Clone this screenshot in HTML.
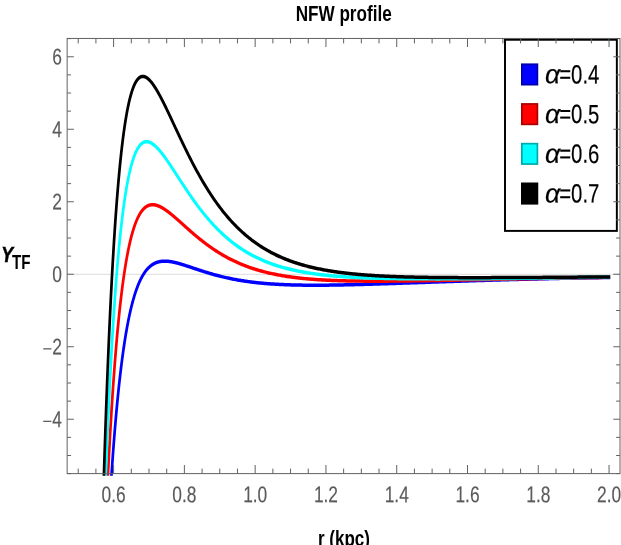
<!DOCTYPE html>
<html><head><meta charset="utf-8"><title>NFW profile</title>
<style>
html,body{margin:0;padding:0;background:#fff;}
body{width:621px;height:545px;overflow:hidden;}
svg{display:block;font-family:"Liberation Sans",sans-serif;}
text{filter:grayscale(1);}
</style></head>
<body>
<svg width="621" height="545" viewBox="0 0 621 545">
<rect width="621" height="545" fill="#fff"/>
<defs><clipPath id="cp"><rect x="67.15" y="35.45" width="552.85" height="440.35"/></clipPath></defs>
<line x1="67.15" x2="620.0" y1="274.30" y2="274.30" stroke="#cfcfcf" stroke-width="0.75"/>
<g clip-path="url(#cp)"><g transform="scale(0.778,1)" fill="none" stroke-width="3.5" stroke-linejoin="round" stroke-linecap="butt">
<path d="M139.04,529.71L139.31,525.85L139.59,522.03L139.86,518.27L140.13,514.56L140.41,510.89L140.68,507.27L140.95,503.70L141.23,500.17L141.50,496.69L141.77,493.26L142.05,489.87L142.32,486.53L142.60,483.23L142.87,479.97L143.14,476.75L143.42,473.58L143.69,470.44L143.96,467.35L144.24,464.30L144.51,461.29L144.78,458.32L145.06,455.39L145.33,452.50L145.61,449.64L145.88,446.82L146.15,444.04L146.43,441.30L146.70,438.59L146.97,435.92L147.25,433.28L147.52,430.68L147.79,428.11L148.07,425.58L148.34,423.08L148.61,420.61L148.89,418.18L149.16,415.77L149.44,413.40L149.71,411.07L149.98,408.76L150.26,406.48L150.53,404.24L150.80,402.02L151.08,399.84L151.35,397.68L151.62,395.55L151.90,393.45L152.17,391.38L152.45,389.34L152.72,387.32L152.99,385.33L153.27,383.37L153.54,381.44L153.81,379.53L154.09,377.65L154.36,375.79L154.63,373.96L154.91,372.15L155.18,370.37L155.46,368.61L155.73,366.88L156.00,365.17L156.28,363.48L156.55,361.81L156.82,360.17L157.10,358.56L157.37,356.96L157.64,355.39L157.92,353.83L158.19,352.30L158.46,350.79L158.74,349.30L159.01,347.84L159.29,346.39L159.56,344.96L159.83,343.55L160.11,342.16L160.38,340.80L160.65,339.45L160.93,338.12L161.20,336.81L161.47,335.51L161.75,334.24L162.02,332.98L162.30,331.74L162.57,330.52L162.84,329.32L163.12,328.13L163.39,326.96L163.66,325.80L163.94,324.67L164.21,323.55L164.48,322.44L164.76,321.35L165.03,320.28L165.31,319.22L165.58,318.18L165.85,317.16L166.13,316.14L166.40,315.15L166.67,314.16L166.95,313.19L167.22,312.24L167.49,311.30L167.77,310.37L168.04,309.46L168.32,308.56L168.59,307.68L168.86,306.80L169.14,305.94L169.41,305.10L169.68,304.26L169.96,303.44L170.23,302.63L170.50,301.84L170.78,301.05L171.05,300.28L171.32,299.52L171.60,298.77L171.87,298.03L172.15,297.30L172.42,296.58L172.69,295.88L172.97,295.19L173.24,294.50L173.51,293.83L173.79,293.17L174.06,292.52L174.33,291.87L174.61,291.24L174.88,290.62L175.16,290.01L175.43,289.41L175.70,288.82L175.98,288.23L176.25,287.66L176.52,287.09L176.80,286.54L177.07,285.99L177.34,285.45L177.62,284.93L177.89,284.41L178.17,283.89L178.44,283.39L178.71,282.90L178.99,282.41L179.26,281.93L179.53,281.46L179.81,281.00L180.08,280.54L180.35,280.10L180.63,279.66L180.90,279.22L181.17,278.80L181.45,278.38L181.72,277.97L182.00,277.57L182.27,277.17L182.54,276.78L182.82,276.40L183.09,276.03L183.36,275.66L183.64,275.30L183.91,274.94L184.18,274.59L184.46,274.25L184.73,273.91L185.01,273.58L185.28,273.26L185.55,272.94L185.83,272.63L186.10,272.32L186.37,272.02L186.65,271.72L186.92,271.43L187.19,271.15L187.47,270.87L187.74,270.60L188.02,270.33L188.29,270.07L188.56,269.81L188.84,269.56L189.11,269.31L189.38,269.07L189.66,268.83L189.93,268.60L190.20,268.37L190.48,268.15L190.75,267.93L191.03,267.72L191.30,267.51L191.57,267.30L191.85,267.10L192.12,266.91L192.39,266.71L192.67,266.53L192.94,266.34L193.21,266.16L193.49,265.99L193.76,265.82L194.03,265.65L194.31,265.49L194.58,265.33L194.86,265.17L195.13,265.02L195.40,264.87L195.68,264.73L195.95,264.59L196.22,264.45L196.50,264.32L196.77,264.19L197.04,264.06L197.32,263.94L197.59,263.82L197.87,263.70L198.14,263.58L198.41,263.47L198.69,263.37L198.96,263.26L199.23,263.16L199.51,263.06L199.78,262.97L200.05,262.87L200.33,262.78L200.60,262.70L200.88,262.61L201.15,262.53L201.42,262.45L201.70,262.38L201.97,262.30L202.24,262.23L202.52,262.17L202.79,262.10L203.06,262.04L203.34,261.98L203.61,261.92L203.88,261.86L204.16,261.81L204.43,261.76L204.71,261.71L204.98,261.66L205.25,261.62L205.53,261.58L205.80,261.54L206.07,261.50L206.35,261.46L206.62,261.43L206.89,261.40L207.17,261.37L207.44,261.34L207.72,261.31L207.99,261.29L208.26,261.27L208.54,261.25L208.81,261.23L209.08,261.21L209.36,261.20L209.63,261.18L209.90,261.17L210.18,261.16L210.45,261.15L210.73,261.15L211.00,261.14L211.27,261.14L211.55,261.14L211.82,261.13L212.09,261.14L212.37,261.14L212.64,261.14L212.91,261.15L213.19,261.16L213.46,261.16L213.74,261.17L214.01,261.18L214.28,261.20L214.56,261.21L214.83,261.23L215.10,261.24L215.38,261.26L215.65,261.28L215.92,261.30L216.20,261.32L216.47,261.34L216.74,261.36L217.02,261.39L217.29,261.41L217.57,261.44L217.84,261.47L218.11,261.50L218.39,261.53L218.66,261.56L218.93,261.59L219.21,261.62L219.48,261.66L219.75,261.69L220.03,261.73L220.30,261.76L220.58,261.80L220.85,261.84L221.12,261.88L221.40,261.92L221.67,261.96L221.94,262.00L222.22,262.04L222.49,262.09L222.76,262.13L223.04,262.18L223.31,262.22L223.59,262.27L223.86,262.31L224.13,262.36L224.41,262.41L224.68,262.46L224.95,262.51L225.23,262.56L225.50,262.61L225.77,262.66L226.05,262.71L226.32,262.77L226.59,262.82L226.87,262.87L227.14,262.93L227.42,262.98L227.69,263.04L227.96,263.09L228.24,263.15L228.51,263.21L228.78,263.26L229.06,263.32L229.33,263.38L229.60,263.44L229.88,263.50L230.15,263.56L230.43,263.62L230.70,263.68L230.97,263.74L231.25,263.80L231.52,263.86L231.79,263.93L232.07,263.99L232.34,264.05L232.61,264.11L232.89,264.18L233.16,264.24L233.44,264.31L233.71,264.37L233.98,264.44L234.26,264.50L234.53,264.57L234.80,264.63L235.08,264.70L235.35,264.76L235.62,264.83L235.90,264.90L236.17,264.96L236.45,265.03L236.72,265.10L236.99,265.17L238.36,265.51L239.74,265.86L241.11,266.21L242.48,266.56L243.85,266.92L245.22,267.27L246.59,267.63L247.97,267.99L249.34,268.35L250.71,268.71L252.08,269.06L253.45,269.42L254.82,269.77L256.19,270.12L257.57,270.47L258.94,270.82L260.31,271.16L261.68,271.50L263.05,271.84L264.42,272.17L265.80,272.50L267.17,272.82L268.54,273.14L269.91,273.46L271.28,273.77L272.65,274.08L274.03,274.38L275.40,274.67L276.77,274.97L278.14,275.25L279.51,275.54L280.88,275.82L282.26,276.09L283.63,276.36L285.00,276.62L286.37,276.88L287.74,277.13L289.11,277.38L290.48,277.62L291.86,277.86L293.23,278.09L294.60,278.32L295.97,278.54L297.34,278.76L298.71,278.97L300.09,279.18L301.46,279.38L302.83,279.58L304.20,279.78L305.57,279.97L306.94,280.15L308.32,280.33L309.69,280.51L311.06,280.68L312.43,280.85L313.80,281.01L315.17,281.17L316.55,281.33L317.92,281.48L319.29,281.63L320.66,281.77L322.03,281.91L323.40,282.04L324.78,282.17L326.15,282.30L327.52,282.43L328.89,282.55L330.26,282.66L331.63,282.78L333.00,282.89L334.38,282.99L335.75,283.10L337.12,283.20L338.49,283.30L339.86,283.39L341.23,283.48L342.61,283.57L343.98,283.65L345.35,283.73L346.72,283.81L348.09,283.89L349.46,283.96L350.84,284.03L352.21,284.10L353.58,284.17L354.95,284.23L356.32,284.29L357.69,284.35L359.07,284.41L360.44,284.46L361.81,284.51L363.18,284.56L364.55,284.61L365.92,284.65L367.29,284.70L368.67,284.74L370.04,284.78L371.41,284.81L372.78,284.85L374.15,284.88L375.52,284.91L376.90,284.94L378.27,284.97L379.64,284.99L381.01,285.02L382.38,285.04L383.75,285.06L385.13,285.08L386.50,285.10L387.87,285.12L389.24,285.13L390.61,285.14L391.98,285.16L393.36,285.17L394.73,285.18L396.10,285.18L397.47,285.19L398.84,285.20L400.21,285.20L401.59,285.20L402.96,285.21L404.33,285.21L405.70,285.21L407.07,285.21L408.44,285.20L409.81,285.20L411.19,285.19L412.56,285.19L413.93,285.18L415.30,285.18L416.67,285.17L418.04,285.16L419.42,285.15L420.79,285.14L422.16,285.13L423.53,285.11L424.90,285.10L426.27,285.09L427.65,285.07L429.02,285.05L430.39,285.04L431.76,285.02L433.13,285.00L434.50,284.99L435.88,284.97L437.25,284.95L438.62,284.93L439.99,284.91L441.36,284.88L442.73,284.86L444.10,284.84L445.48,284.82L446.85,284.79L448.22,284.77L449.59,284.74L450.96,284.72L452.33,284.69L453.71,284.67L455.08,284.64L456.45,284.61L457.82,284.59L459.19,284.56L460.56,284.53L461.94,284.50L463.31,284.47L464.68,284.45L466.05,284.42L467.42,284.39L468.79,284.36L470.17,284.33L471.54,284.29L472.91,284.26L474.28,284.23L475.65,284.20L477.02,284.17L478.40,284.14L479.77,284.10L481.14,284.07L482.51,284.04L483.88,284.00L485.25,283.97L486.62,283.94L488.00,283.90L489.37,283.87L490.74,283.84L492.11,283.80L493.48,283.77L494.85,283.73L496.23,283.70L497.60,283.66L498.97,283.63L500.34,283.59L501.71,283.56L503.08,283.52L504.46,283.48L505.83,283.45L507.20,283.41L508.57,283.38L509.94,283.34L511.31,283.30L512.69,283.27L514.06,283.23L515.43,283.19L516.80,283.16L518.17,283.12L519.54,283.08L520.92,283.05L522.29,283.01L523.66,282.97L525.03,282.94L526.40,282.90L527.77,282.86L529.14,282.83L530.52,282.79L531.89,282.75L533.26,282.71L534.63,282.68L536.00,282.64L537.37,282.60L538.75,282.57L540.12,282.53L541.49,282.49L542.86,282.45L544.23,282.42L545.60,282.38L546.98,282.34L548.35,282.30L549.72,282.27L551.09,282.23L552.46,282.19L553.83,282.16L555.21,282.12L556.58,282.08L557.95,282.05L559.32,282.01L560.69,281.97L562.06,281.93L563.43,281.90L564.81,281.86L566.18,281.82L567.55,281.79L568.92,281.75L570.29,281.71L571.66,281.68L573.04,281.64L574.41,281.60L575.78,281.57L577.15,281.53L578.52,281.50L579.89,281.46L581.27,281.42L582.64,281.39L584.01,281.35L585.38,281.32L586.75,281.28L588.12,281.24L589.50,281.21L590.87,281.17L592.24,281.14L593.61,281.10L594.98,281.07L596.35,281.03L597.73,281.00L599.10,280.96L600.47,280.93L601.84,280.89L603.21,280.86L604.58,280.82L605.95,280.79L607.33,280.75L608.70,280.72L610.07,280.69L611.44,280.65L612.81,280.62L614.18,280.58L615.56,280.55L616.93,280.52L618.30,280.48L619.67,280.45L621.04,280.42L622.41,280.38L623.79,280.35L625.16,280.32L626.53,280.28L627.90,280.25L629.27,280.22L630.64,280.19L632.02,280.15L633.39,280.12L634.76,280.09L636.13,280.06L637.50,280.03L638.87,279.99L640.24,279.96L641.62,279.93L642.99,279.90L644.36,279.87L645.73,279.84L647.10,279.81L648.47,279.78L649.85,279.74L651.22,279.71L652.59,279.68L653.96,279.65L655.33,279.62L656.70,279.59L658.08,279.56L659.45,279.53L660.82,279.50L662.19,279.48L663.56,279.45L664.93,279.42L666.31,279.39L667.68,279.36L669.05,279.33L670.42,279.30L671.79,279.27L673.16,279.24L674.54,279.22L675.91,279.19L677.28,279.16L678.65,279.13L680.02,279.11L681.39,279.08L682.76,279.05L684.14,279.02L685.51,279.00L686.88,278.97L688.25,278.94L689.62,278.92L690.99,278.89L692.37,278.86L693.74,278.84L695.11,278.81L696.48,278.79L697.85,278.76L699.22,278.73L700.60,278.71L701.97,278.68L703.34,278.66L704.71,278.63L706.08,278.61L707.45,278.58L708.83,278.56L710.20,278.54L711.57,278.51L712.94,278.49L714.31,278.46L715.68,278.44L717.05,278.42L718.43,278.39L719.80,278.37L721.17,278.35L722.54,278.32L723.91,278.30L725.28,278.28L726.66,278.26L728.03,278.23L729.40,278.21L730.77,278.19L732.14,278.17L733.51,278.15L734.89,278.12L736.26,278.10L737.63,278.08L739.00,278.06L740.37,278.04L741.74,278.02L743.12,278.00L744.49,277.98L745.86,277.96L747.23,277.94L748.60,277.92L749.97,277.90L751.35,277.88L752.72,277.86L754.09,277.84L755.46,277.82L756.83,277.80L758.20,277.78L759.57,277.76L760.95,277.74L762.32,277.73L763.69,277.71L765.06,277.69L766.43,277.67L767.80,277.65L769.18,277.64L770.55,277.62L771.92,277.60L773.29,277.58L774.66,277.57L776.03,277.55L777.41,277.53L778.78,277.52L780.15,277.50L781.52,277.48L782.89,277.47L784.26,277.45" stroke="#0000ff"/>
<path d="M135.48,530.71L135.75,525.71L136.03,520.78L136.30,515.92L136.58,511.12L136.85,506.38L137.12,501.71L137.40,497.10L137.67,492.55L137.94,488.06L138.22,483.63L138.49,479.25L138.76,474.94L139.04,470.69L139.31,466.49L139.59,462.35L139.86,458.26L140.13,454.23L140.41,450.25L140.68,446.33L140.95,442.45L141.23,438.63L141.50,434.87L141.77,431.15L142.05,427.48L142.32,423.87L142.60,420.30L142.87,416.78L143.14,413.31L143.42,409.89L143.69,406.51L143.96,403.18L144.24,399.89L144.51,396.65L144.78,393.46L145.06,390.30L145.33,387.20L145.61,384.13L145.88,381.11L146.15,378.13L146.43,375.19L146.70,372.29L146.97,369.43L147.25,366.61L147.52,363.83L147.79,361.09L148.07,358.39L148.34,355.72L148.61,353.10L148.89,350.51L149.16,347.95L149.44,345.44L149.71,342.95L149.98,340.51L150.26,338.10L150.53,335.72L150.80,333.38L151.08,331.07L151.35,328.79L151.62,326.55L151.90,324.34L152.17,322.16L152.45,320.01L152.72,317.89L152.99,315.81L153.27,313.75L153.54,311.73L153.81,309.73L154.09,307.76L154.36,305.83L154.63,303.92L154.91,302.04L155.18,300.18L155.46,298.36L155.73,296.56L156.00,294.79L156.28,293.04L156.55,291.32L156.82,289.63L157.10,287.96L157.37,286.32L157.64,284.71L157.92,283.11L158.19,281.54L158.46,280.00L158.74,278.48L159.01,276.98L159.29,275.51L159.56,274.06L159.83,272.63L160.11,271.22L160.38,269.84L160.65,268.48L160.93,267.14L161.20,265.82L161.47,264.52L161.75,263.24L162.02,261.98L162.30,260.75L162.57,259.53L162.84,258.33L163.12,257.15L163.39,255.99L163.66,254.85L163.94,253.73L164.21,252.63L164.48,251.54L164.76,250.48L165.03,249.43L165.31,248.39L165.58,247.38L165.85,246.38L166.13,245.40L166.40,244.44L166.67,243.49L166.95,242.56L167.22,241.65L167.49,240.75L167.77,239.87L168.04,239.00L168.32,238.15L168.59,237.31L168.86,236.49L169.14,235.68L169.41,234.89L169.68,234.11L169.96,233.34L170.23,232.59L170.50,231.85L170.78,231.13L171.05,230.42L171.32,229.72L171.60,229.04L171.87,228.37L172.15,227.71L172.42,227.07L172.69,226.44L172.97,225.81L173.24,225.21L173.51,224.61L173.79,224.03L174.06,223.45L174.33,222.89L174.61,222.34L174.88,221.80L175.16,221.28L175.43,220.76L175.70,220.25L175.98,219.76L176.25,219.27L176.52,218.80L176.80,218.33L177.07,217.88L177.34,217.44L177.62,217.00L177.89,216.58L178.17,216.16L178.44,215.76L178.71,215.36L178.99,214.97L179.26,214.60L179.53,214.23L179.81,213.87L180.08,213.52L180.35,213.17L180.63,212.84L180.90,212.51L181.17,212.20L181.45,211.89L181.72,211.59L182.00,211.29L182.27,211.01L182.54,210.73L182.82,210.46L183.09,210.20L183.36,209.94L183.64,209.70L183.91,209.45L184.18,209.22L184.46,209.00L184.73,208.78L185.01,208.56L185.28,208.36L185.55,208.16L185.83,207.97L186.10,207.78L186.37,207.60L186.65,207.43L186.92,207.26L187.19,207.10L187.47,206.94L187.74,206.80L188.02,206.65L188.29,206.52L188.56,206.38L188.84,206.26L189.11,206.14L189.38,206.02L189.66,205.91L189.93,205.81L190.20,205.71L190.48,205.62L190.75,205.53L191.03,205.45L191.30,205.37L191.57,205.29L191.85,205.22L192.12,205.16L192.39,205.10L192.67,205.05L192.94,205.00L193.21,204.95L193.49,204.91L193.76,204.87L194.03,204.84L194.31,204.81L194.58,204.79L194.86,204.77L195.13,204.75L195.40,204.74L195.68,204.73L195.95,204.73L196.22,204.73L196.50,204.73L196.77,204.74L197.04,204.75L197.32,204.76L197.59,204.78L197.87,204.80L198.14,204.82L198.41,204.85L198.69,204.88L198.96,204.92L199.23,204.96L199.51,205.00L199.78,205.04L200.05,205.09L200.33,205.14L200.60,205.19L200.88,205.25L201.15,205.31L201.42,205.37L201.70,205.43L201.97,205.50L202.24,205.57L202.52,205.64L202.79,205.72L203.06,205.80L203.34,205.88L203.61,205.96L203.88,206.05L204.16,206.14L204.43,206.23L204.71,206.32L204.98,206.41L205.25,206.51L205.53,206.61L205.80,206.71L206.07,206.81L206.35,206.92L206.62,207.03L206.89,207.14L207.17,207.25L207.44,207.36L207.72,207.48L207.99,207.60L208.26,207.72L208.54,207.84L208.81,207.96L209.08,208.09L209.36,208.21L209.63,208.34L209.90,208.47L210.18,208.60L210.45,208.74L210.73,208.87L211.00,209.01L211.27,209.15L211.55,209.28L211.82,209.43L212.09,209.57L212.37,209.71L212.64,209.86L212.91,210.00L213.19,210.15L213.46,210.30L213.74,210.45L214.01,210.60L214.28,210.75L214.56,210.91L214.83,211.06L215.10,211.22L215.38,211.38L215.65,211.54L215.92,211.70L216.20,211.86L216.47,212.02L216.74,212.18L217.02,212.34L217.29,212.51L217.57,212.67L217.84,212.84L218.11,213.01L218.39,213.18L218.66,213.35L218.93,213.52L219.21,213.69L219.48,213.86L219.75,214.03L220.03,214.20L220.30,214.38L220.58,214.55L220.85,214.73L221.12,214.90L221.40,215.08L221.67,215.26L221.94,215.43L222.22,215.61L222.49,215.79L222.76,215.97L223.04,216.15L223.31,216.33L223.59,216.51L223.86,216.70L224.13,216.88L224.41,217.06L224.68,217.24L224.95,217.43L225.23,217.61L225.50,217.80L225.77,217.98L226.05,218.17L226.32,218.35L226.59,218.54L226.87,218.72L227.14,218.91L227.42,219.10L227.69,219.28L227.96,219.47L228.24,219.66L228.51,219.85L228.78,220.04L229.06,220.23L229.33,220.41L229.60,220.60L229.88,220.79L230.15,220.98L230.43,221.17L230.70,221.36L230.97,221.55L231.25,221.74L231.52,221.93L231.79,222.12L232.07,222.31L232.34,222.50L232.61,222.69L232.89,222.89L233.16,223.08L233.44,223.27L233.71,223.46L233.98,223.65L234.26,223.84L234.53,224.03L234.80,224.22L235.08,224.41L235.35,224.60L235.62,224.80L235.90,224.99L236.17,225.18L236.45,225.37L236.72,225.56L236.99,225.75L238.36,226.71L239.74,227.66L241.11,228.61L242.48,229.56L243.85,230.50L245.22,231.43L246.59,232.36L247.97,233.29L249.34,234.20L250.71,235.11L252.08,236.01L253.45,236.90L254.82,237.78L256.19,238.65L257.57,239.51L258.94,240.36L260.31,241.20L261.68,242.03L263.05,242.85L264.42,243.66L265.80,244.46L267.17,245.24L268.54,246.02L269.91,246.78L271.28,247.53L272.65,248.27L274.03,249.00L275.40,249.72L276.77,250.42L278.14,251.12L279.51,251.80L280.88,252.47L282.26,253.13L283.63,253.78L285.00,254.42L286.37,255.05L287.74,255.66L289.11,256.26L290.48,256.86L291.86,257.44L293.23,258.01L294.60,258.57L295.97,259.12L297.34,259.66L298.71,260.19L300.09,260.71L301.46,261.22L302.83,261.71L304.20,262.20L305.57,262.68L306.94,263.15L308.32,263.61L309.69,264.06L311.06,264.50L312.43,264.93L313.80,265.36L315.17,265.77L316.55,266.18L317.92,266.57L319.29,266.96L320.66,267.34L322.03,267.72L323.40,268.08L324.78,268.44L326.15,268.78L327.52,269.12L328.89,269.46L330.26,269.78L331.63,270.10L333.00,270.41L334.38,270.72L335.75,271.02L337.12,271.31L338.49,271.59L339.86,271.87L341.23,272.14L342.61,272.40L343.98,272.66L345.35,272.92L346.72,273.16L348.09,273.40L349.46,273.64L350.84,273.87L352.21,274.09L353.58,274.31L354.95,274.52L356.32,274.73L357.69,274.93L359.07,275.13L360.44,275.32L361.81,275.51L363.18,275.70L364.55,275.88L365.92,276.05L367.29,276.22L368.67,276.39L370.04,276.55L371.41,276.70L372.78,276.86L374.15,277.01L375.52,277.15L376.90,277.29L378.27,277.43L379.64,277.56L381.01,277.70L382.38,277.82L383.75,277.95L385.13,278.07L386.50,278.18L387.87,278.30L389.24,278.41L390.61,278.51L391.98,278.62L393.36,278.72L394.73,278.82L396.10,278.91L397.47,279.00L398.84,279.09L400.21,279.18L401.59,279.27L402.96,279.35L404.33,279.43L405.70,279.50L407.07,279.58L408.44,279.65L409.81,279.72L411.19,279.79L412.56,279.85L413.93,279.92L415.30,279.98L416.67,280.04L418.04,280.09L419.42,280.15L420.79,280.20L422.16,280.25L423.53,280.30L424.90,280.35L426.27,280.40L427.65,280.44L429.02,280.48L430.39,280.53L431.76,280.56L433.13,280.60L434.50,280.64L435.88,280.67L437.25,280.71L438.62,280.74L439.99,280.77L441.36,280.80L442.73,280.83L444.10,280.85L445.48,280.88L446.85,280.90L448.22,280.92L449.59,280.95L450.96,280.97L452.33,280.99L453.71,281.00L455.08,281.02L456.45,281.04L457.82,281.05L459.19,281.07L460.56,281.08L461.94,281.09L463.31,281.10L464.68,281.11L466.05,281.12L467.42,281.13L468.79,281.14L470.17,281.14L471.54,281.15L472.91,281.15L474.28,281.16L475.65,281.16L477.02,281.17L478.40,281.17L479.77,281.17L481.14,281.17L482.51,281.17L483.88,281.17L485.25,281.17L486.62,281.17L488.00,281.16L489.37,281.16L490.74,281.16L492.11,281.15L493.48,281.15L494.85,281.14L496.23,281.14L497.60,281.13L498.97,281.13L500.34,281.12L501.71,281.11L503.08,281.10L504.46,281.09L505.83,281.08L507.20,281.08L508.57,281.07L509.94,281.06L511.31,281.05L512.69,281.03L514.06,281.02L515.43,281.01L516.80,281.00L518.17,280.99L519.54,280.97L520.92,280.96L522.29,280.95L523.66,280.93L525.03,280.92L526.40,280.91L527.77,280.89L529.14,280.88L530.52,280.86L531.89,280.85L533.26,280.83L534.63,280.82L536.00,280.80L537.37,280.78L538.75,280.77L540.12,280.75L541.49,280.73L542.86,280.72L544.23,280.70L545.60,280.68L546.98,280.67L548.35,280.65L549.72,280.63L551.09,280.61L552.46,280.59L553.83,280.58L555.21,280.56L556.58,280.54L557.95,280.52L559.32,280.50L560.69,280.48L562.06,280.46L563.43,280.44L564.81,280.42L566.18,280.40L567.55,280.38L568.92,280.37L570.29,280.35L571.66,280.33L573.04,280.31L574.41,280.29L575.78,280.27L577.15,280.25L578.52,280.22L579.89,280.20L581.27,280.18L582.64,280.16L584.01,280.14L585.38,280.12L586.75,280.10L588.12,280.08L589.50,280.06L590.87,280.04L592.24,280.02L593.61,280.00L594.98,279.98L596.35,279.96L597.73,279.93L599.10,279.91L600.47,279.89L601.84,279.87L603.21,279.85L604.58,279.83L605.95,279.81L607.33,279.79L608.70,279.77L610.07,279.74L611.44,279.72L612.81,279.70L614.18,279.68L615.56,279.66L616.93,279.64L618.30,279.62L619.67,279.59L621.04,279.57L622.41,279.55L623.79,279.53L625.16,279.51L626.53,279.49L627.90,279.47L629.27,279.45L630.64,279.42L632.02,279.40L633.39,279.38L634.76,279.36L636.13,279.34L637.50,279.32L638.87,279.30L640.24,279.28L641.62,279.25L642.99,279.23L644.36,279.21L645.73,279.19L647.10,279.17L648.47,279.15L649.85,279.13L651.22,279.11L652.59,279.08L653.96,279.06L655.33,279.04L656.70,279.02L658.08,279.00L659.45,278.98L660.82,278.96L662.19,278.94L663.56,278.92L664.93,278.90L666.31,278.88L667.68,278.86L669.05,278.83L670.42,278.81L671.79,278.79L673.16,278.77L674.54,278.75L675.91,278.73L677.28,278.71L678.65,278.69L680.02,278.67L681.39,278.65L682.76,278.63L684.14,278.61L685.51,278.59L686.88,278.57L688.25,278.55L689.62,278.53L690.99,278.51L692.37,278.49L693.74,278.47L695.11,278.45L696.48,278.43L697.85,278.41L699.22,278.39L700.60,278.37L701.97,278.35L703.34,278.33L704.71,278.31L706.08,278.29L707.45,278.27L708.83,278.25L710.20,278.23L711.57,278.21L712.94,278.19L714.31,278.17L715.68,278.15L717.05,278.13L718.43,278.11L719.80,278.09L721.17,278.08L722.54,278.06L723.91,278.04L725.28,278.02L726.66,278.00L728.03,277.98L729.40,277.96L730.77,277.94L732.14,277.92L733.51,277.90L734.89,277.89L736.26,277.87L737.63,277.85L739.00,277.83L740.37,277.81L741.74,277.79L743.12,277.77L744.49,277.76L745.86,277.74L747.23,277.72L748.60,277.70L749.97,277.68L751.35,277.66L752.72,277.65L754.09,277.63L755.46,277.61L756.83,277.59L758.20,277.57L759.57,277.56L760.95,277.54L762.32,277.52L763.69,277.50L765.06,277.49L766.43,277.47L767.80,277.45L769.18,277.43L770.55,277.41L771.92,277.40L773.29,277.38L774.66,277.36L776.03,277.35L777.41,277.33L778.78,277.31L780.15,277.29L781.52,277.28L782.89,277.26L784.26,277.24" stroke="#ff0000"/>
<path d="M133.29,532.78L133.57,526.54L133.84,520.39L134.11,514.32L134.39,508.33L134.66,502.42L134.93,496.59L135.21,490.83L135.48,485.16L135.75,479.56L136.03,474.04L136.30,468.59L136.58,463.22L136.85,457.91L137.12,452.68L137.40,447.53L137.67,442.44L137.94,437.42L138.22,432.47L138.49,427.59L138.76,422.77L139.04,418.02L139.31,413.34L139.59,408.72L139.86,404.16L140.13,399.67L140.41,395.24L140.68,390.87L140.95,386.57L141.23,382.32L141.50,378.13L141.77,374.00L142.05,369.93L142.32,365.91L142.60,361.96L142.87,358.05L143.14,354.21L143.42,350.42L143.69,346.68L143.96,342.99L144.24,339.36L144.51,335.78L144.78,332.25L145.06,328.77L145.33,325.34L145.61,321.96L145.88,318.63L146.15,315.35L146.43,312.11L146.70,308.93L146.97,305.79L147.25,302.69L147.52,299.64L147.79,296.64L148.07,293.68L148.34,290.76L148.61,287.89L148.89,285.06L149.16,282.27L149.44,279.52L149.71,276.82L149.98,274.15L150.26,271.53L150.53,268.94L150.80,266.40L151.08,263.89L151.35,261.42L151.62,258.99L151.90,256.60L152.17,254.24L152.45,251.92L152.72,249.64L152.99,247.39L153.27,245.18L153.54,243.00L153.81,240.85L154.09,238.74L154.36,236.67L154.63,234.62L154.91,232.61L155.18,230.63L155.46,228.68L155.73,226.77L156.00,224.88L156.28,223.03L156.55,221.20L156.82,219.41L157.10,217.65L157.37,215.91L157.64,214.20L157.92,212.53L158.19,210.88L158.46,209.25L158.74,207.66L159.01,206.09L159.29,204.55L159.56,203.03L159.83,201.55L160.11,200.08L160.38,198.65L160.65,197.23L160.93,195.85L161.20,194.48L161.47,193.15L161.75,191.83L162.02,190.54L162.30,189.27L162.57,188.03L162.84,186.80L163.12,185.60L163.39,184.43L163.66,183.27L163.94,182.14L164.21,181.02L164.48,179.93L164.76,178.86L165.03,177.81L165.31,176.78L165.58,175.77L165.85,174.78L166.13,173.81L166.40,172.86L166.67,171.93L166.95,171.01L167.22,170.12L167.49,169.24L167.77,168.38L168.04,167.54L168.32,166.72L168.59,165.91L168.86,165.12L169.14,164.35L169.41,163.59L169.68,162.86L169.96,162.13L170.23,161.43L170.50,160.74L170.78,160.06L171.05,159.40L171.32,158.76L171.60,158.13L171.87,157.52L172.15,156.92L172.42,156.33L172.69,155.76L172.97,155.20L173.24,154.66L173.51,154.13L173.79,153.62L174.06,153.12L174.33,152.63L174.61,152.15L174.88,151.69L175.16,151.24L175.43,150.80L175.70,150.38L175.98,149.96L176.25,149.56L176.52,149.17L176.80,148.80L177.07,148.43L177.34,148.08L177.62,147.73L177.89,147.40L178.17,147.08L178.44,146.77L178.71,146.47L178.99,146.18L179.26,145.90L179.53,145.64L179.81,145.38L180.08,145.13L180.35,144.89L180.63,144.66L180.90,144.44L181.17,144.23L181.45,144.03L181.72,143.84L182.00,143.66L182.27,143.49L182.54,143.32L182.82,143.17L183.09,143.02L183.36,142.88L183.64,142.75L183.91,142.63L184.18,142.51L184.46,142.41L184.73,142.31L185.01,142.22L185.28,142.13L185.55,142.06L185.83,141.99L186.10,141.93L186.37,141.88L186.65,141.83L186.92,141.79L187.19,141.76L187.47,141.73L187.74,141.71L188.02,141.70L188.29,141.69L188.56,141.69L188.84,141.70L189.11,141.71L189.38,141.73L189.66,141.76L189.93,141.79L190.20,141.82L190.48,141.87L190.75,141.92L191.03,141.97L191.30,142.03L191.57,142.09L191.85,142.16L192.12,142.24L192.39,142.32L192.67,142.41L192.94,142.50L193.21,142.59L193.49,142.69L193.76,142.80L194.03,142.91L194.31,143.02L194.58,143.14L194.86,143.27L195.13,143.39L195.40,143.53L195.68,143.66L195.95,143.81L196.22,143.95L196.50,144.10L196.77,144.25L197.04,144.41L197.32,144.57L197.59,144.74L197.87,144.91L198.14,145.08L198.41,145.26L198.69,145.44L198.96,145.62L199.23,145.81L199.51,146.00L199.78,146.19L200.05,146.39L200.33,146.59L200.60,146.79L200.88,147.00L201.15,147.21L201.42,147.42L201.70,147.63L201.97,147.85L202.24,148.07L202.52,148.30L202.79,148.52L203.06,148.75L203.34,148.98L203.61,149.22L203.88,149.46L204.16,149.70L204.43,149.94L204.71,150.18L204.98,150.43L205.25,150.68L205.53,150.93L205.80,151.18L206.07,151.44L206.35,151.70L206.62,151.96L206.89,152.22L207.17,152.48L207.44,152.75L207.72,153.02L207.99,153.29L208.26,153.56L208.54,153.83L208.81,154.11L209.08,154.39L209.36,154.67L209.63,154.95L209.90,155.23L210.18,155.51L210.45,155.80L210.73,156.09L211.00,156.37L211.27,156.66L211.55,156.96L211.82,157.25L212.09,157.54L212.37,157.84L212.64,158.13L212.91,158.43L213.19,158.73L213.46,159.03L213.74,159.33L214.01,159.63L214.28,159.94L214.56,160.24L214.83,160.55L215.10,160.86L215.38,161.16L215.65,161.47L215.92,161.78L216.20,162.09L216.47,162.40L216.74,162.72L217.02,163.03L217.29,163.34L217.57,163.66L217.84,163.97L218.11,164.29L218.39,164.61L218.66,164.92L218.93,165.24L219.21,165.56L219.48,165.88L219.75,166.20L220.03,166.52L220.30,166.84L220.58,167.16L220.85,167.49L221.12,167.81L221.40,168.13L221.67,168.46L221.94,168.78L222.22,169.10L222.49,169.43L222.76,169.75L223.04,170.08L223.31,170.40L223.59,170.73L223.86,171.06L224.13,171.38L224.41,171.71L224.68,172.04L224.95,172.36L225.23,172.69L225.50,173.02L225.77,173.35L226.05,173.67L226.32,174.00L226.59,174.33L226.87,174.66L227.14,174.98L227.42,175.31L227.69,175.64L227.96,175.97L228.24,176.30L228.51,176.63L228.78,176.95L229.06,177.28L229.33,177.61L229.60,177.94L229.88,178.27L230.15,178.59L230.43,178.92L230.70,179.25L230.97,179.58L231.25,179.90L231.52,180.23L231.79,180.56L232.07,180.88L232.34,181.21L232.61,181.54L232.89,181.86L233.16,182.19L233.44,182.52L233.71,182.84L233.98,183.17L234.26,183.49L234.53,183.82L234.80,184.14L235.08,184.46L235.35,184.79L235.62,185.11L235.90,185.43L236.17,185.76L236.45,186.08L236.72,186.40L236.99,186.72L238.36,188.33L239.74,189.93L241.11,191.51L242.48,193.08L243.85,194.64L245.22,196.19L246.59,197.72L247.97,199.23L249.34,200.73L250.71,202.21L252.08,203.68L253.45,205.13L254.82,206.56L256.19,207.97L257.57,209.36L258.94,210.74L260.31,212.09L261.68,213.43L263.05,214.75L264.42,216.05L265.80,217.33L267.17,218.59L268.54,219.83L269.91,221.05L271.28,222.26L272.65,223.44L274.03,224.61L275.40,225.75L276.77,226.88L278.14,227.98L279.51,229.07L280.88,230.14L282.26,231.19L283.63,232.23L285.00,233.24L286.37,234.24L287.74,235.21L289.11,236.17L290.48,237.12L291.86,238.04L293.23,238.95L294.60,239.84L295.97,240.71L297.34,241.57L298.71,242.41L300.09,243.24L301.46,244.04L302.83,244.84L304.20,245.61L305.57,246.38L306.94,247.12L308.32,247.85L309.69,248.57L311.06,249.27L312.43,249.96L313.80,250.64L315.17,251.30L316.55,251.94L317.92,252.58L319.29,253.20L320.66,253.81L322.03,254.40L323.40,254.98L324.78,255.55L326.15,256.11L327.52,256.66L328.89,257.19L330.26,257.72L331.63,258.23L333.00,258.73L334.38,259.22L335.75,259.70L337.12,260.17L338.49,260.63L339.86,261.08L341.23,261.52L342.61,261.95L343.98,262.37L345.35,262.78L346.72,263.18L348.09,263.57L349.46,263.95L350.84,264.33L352.21,264.70L353.58,265.06L354.95,265.41L356.32,265.75L357.69,266.08L359.07,266.41L360.44,266.73L361.81,267.04L363.18,267.35L364.55,267.65L365.92,267.94L367.29,268.23L368.67,268.50L370.04,268.78L371.41,269.04L372.78,269.30L374.15,269.55L375.52,269.80L376.90,270.04L378.27,270.28L379.64,270.51L381.01,270.73L382.38,270.95L383.75,271.17L385.13,271.38L386.50,271.58L387.87,271.78L389.24,271.98L390.61,272.17L391.98,272.35L393.36,272.53L394.73,272.71L396.10,272.88L397.47,273.05L398.84,273.21L400.21,273.37L401.59,273.53L402.96,273.68L404.33,273.83L405.70,273.98L407.07,274.12L408.44,274.26L409.81,274.39L411.19,274.52L412.56,274.65L413.93,274.77L415.30,274.89L416.67,275.01L418.04,275.13L419.42,275.24L420.79,275.35L422.16,275.46L423.53,275.56L424.90,275.66L426.27,275.76L427.65,275.86L429.02,275.95L430.39,276.04L431.76,276.13L433.13,276.22L434.50,276.30L435.88,276.39L437.25,276.47L438.62,276.54L439.99,276.62L441.36,276.69L442.73,276.77L444.10,276.84L445.48,276.90L446.85,276.97L448.22,277.04L449.59,277.10L450.96,277.16L452.33,277.22L453.71,277.28L455.08,277.33L456.45,277.39L457.82,277.44L459.19,277.49L460.56,277.54L461.94,277.59L463.31,277.64L464.68,277.68L466.05,277.73L467.42,277.77L468.79,277.82L470.17,277.86L471.54,277.90L472.91,277.93L474.28,277.97L475.65,278.01L477.02,278.04L478.40,278.08L479.77,278.11L481.14,278.14L482.51,278.17L483.88,278.20L485.25,278.23L486.62,278.26L488.00,278.29L489.37,278.32L490.74,278.34L492.11,278.37L493.48,278.39L494.85,278.41L496.23,278.44L497.60,278.46L498.97,278.48L500.34,278.50L501.71,278.52L503.08,278.54L504.46,278.56L505.83,278.57L507.20,278.59L508.57,278.61L509.94,278.62L511.31,278.64L512.69,278.65L514.06,278.67L515.43,278.68L516.80,278.69L518.17,278.70L519.54,278.72L520.92,278.73L522.29,278.74L523.66,278.75L525.03,278.76L526.40,278.77L527.77,278.78L529.14,278.78L530.52,278.79L531.89,278.80L533.26,278.81L534.63,278.81L536.00,278.82L537.37,278.83L538.75,278.83L540.12,278.84L541.49,278.84L542.86,278.85L544.23,278.85L545.60,278.85L546.98,278.86L548.35,278.86L549.72,278.86L551.09,278.87L552.46,278.87L553.83,278.87L555.21,278.87L556.58,278.87L557.95,278.87L559.32,278.87L560.69,278.88L562.06,278.88L563.43,278.88L564.81,278.88L566.18,278.87L567.55,278.87L568.92,278.87L570.29,278.87L571.66,278.87L573.04,278.87L574.41,278.87L575.78,278.86L577.15,278.86L578.52,278.86L579.89,278.86L581.27,278.85L582.64,278.85L584.01,278.85L585.38,278.84L586.75,278.84L588.12,278.84L589.50,278.83L590.87,278.83L592.24,278.82L593.61,278.82L594.98,278.81L596.35,278.81L597.73,278.80L599.10,278.80L600.47,278.79L601.84,278.79L603.21,278.78L604.58,278.77L605.95,278.77L607.33,278.76L608.70,278.76L610.07,278.75L611.44,278.74L612.81,278.73L614.18,278.73L615.56,278.72L616.93,278.71L618.30,278.71L619.67,278.70L621.04,278.69L622.41,278.68L623.79,278.67L625.16,278.67L626.53,278.66L627.90,278.65L629.27,278.64L630.64,278.63L632.02,278.62L633.39,278.61L634.76,278.60L636.13,278.60L637.50,278.59L638.87,278.58L640.24,278.57L641.62,278.56L642.99,278.55L644.36,278.54L645.73,278.53L647.10,278.52L648.47,278.51L649.85,278.50L651.22,278.48L652.59,278.47L653.96,278.46L655.33,278.45L656.70,278.44L658.08,278.43L659.45,278.42L660.82,278.41L662.19,278.39L663.56,278.38L664.93,278.37L666.31,278.36L667.68,278.35L669.05,278.34L670.42,278.32L671.79,278.31L673.16,278.30L674.54,278.28L675.91,278.27L677.28,278.26L678.65,278.25L680.02,278.23L681.39,278.22L682.76,278.21L684.14,278.19L685.51,278.18L686.88,278.17L688.25,278.15L689.62,278.14L690.99,278.12L692.37,278.11L693.74,278.09L695.11,278.08L696.48,278.07L697.85,278.05L699.22,278.04L700.60,278.02L701.97,278.01L703.34,277.99L704.71,277.98L706.08,277.96L707.45,277.95L708.83,277.93L710.20,277.91L711.57,277.90L712.94,277.88L714.31,277.87L715.68,277.85L717.05,277.83L718.43,277.82L719.80,277.80L721.17,277.78L722.54,277.77L723.91,277.75L725.28,277.73L726.66,277.72L728.03,277.70L729.40,277.68L730.77,277.66L732.14,277.65L733.51,277.63L734.89,277.61L736.26,277.59L737.63,277.57L739.00,277.56L740.37,277.54L741.74,277.52L743.12,277.50L744.49,277.48L745.86,277.46L747.23,277.44L748.60,277.42L749.97,277.41L751.35,277.39L752.72,277.37L754.09,277.35L755.46,277.33L756.83,277.31L758.20,277.29L759.57,277.27L760.95,277.25L762.32,277.23L763.69,277.21L765.06,277.19L766.43,277.17L767.80,277.14L769.18,277.12L770.55,277.10L771.92,277.08L773.29,277.06L774.66,277.04L776.03,277.02L777.41,276.99L778.78,276.97L780.15,276.95L781.52,276.93L782.89,276.91L784.26,276.88" stroke="#00ffff"/>
<path d="M131.38,532.54L131.65,525.01L131.92,517.58L132.20,510.26L132.47,503.03L132.75,495.91L133.02,488.88L133.29,481.95L133.57,475.12L133.84,468.38L134.11,461.73L134.39,455.18L134.66,448.71L134.93,442.34L135.21,436.06L135.48,429.86L135.75,423.75L136.03,417.73L136.30,411.79L136.58,405.94L136.85,400.16L137.12,394.47L137.40,388.86L137.67,383.33L137.94,377.88L138.22,372.51L138.49,367.21L138.76,361.99L139.04,356.84L139.31,351.77L139.59,346.77L139.86,341.84L140.13,336.98L140.41,332.20L140.68,327.48L140.95,322.83L141.23,318.25L141.50,313.74L141.77,309.29L142.05,304.91L142.32,300.59L142.60,296.34L142.87,292.15L143.14,288.02L143.42,283.96L143.69,279.95L143.96,276.00L144.24,272.12L144.51,268.29L144.78,264.52L145.06,260.80L145.33,257.15L145.61,253.55L145.88,250.00L146.15,246.51L146.43,243.07L146.70,239.68L146.97,236.35L147.25,233.07L147.52,229.83L147.79,226.65L148.07,223.52L148.34,220.44L148.61,217.41L148.89,214.42L149.16,211.48L149.44,208.59L149.71,205.75L149.98,202.95L150.26,200.19L150.53,197.48L150.80,194.82L151.08,192.19L151.35,189.61L151.62,187.08L151.90,184.58L152.17,182.12L152.45,179.71L152.72,177.34L152.99,175.00L153.27,172.71L153.54,170.45L153.81,168.23L154.09,166.05L154.36,163.91L154.63,161.80L154.91,159.73L155.18,157.70L155.46,155.70L155.73,153.74L156.00,151.81L156.28,149.91L156.55,148.05L156.82,146.22L157.10,144.43L157.37,142.67L157.64,140.94L157.92,139.24L158.19,137.57L158.46,135.93L158.74,134.33L159.01,132.75L159.29,131.20L159.56,129.69L159.83,128.20L160.11,126.74L160.38,125.31L160.65,123.90L160.93,122.53L161.20,121.18L161.47,119.85L161.75,118.56L162.02,117.29L162.30,116.04L162.57,114.82L162.84,113.63L163.12,112.46L163.39,111.32L163.66,110.20L163.94,109.10L164.21,108.03L164.48,106.98L164.76,105.95L165.03,104.95L165.31,103.96L165.58,103.00L165.85,102.07L166.13,101.15L166.40,100.25L166.67,99.38L166.95,98.52L167.22,97.69L167.49,96.88L167.77,96.08L168.04,95.31L168.32,94.56L168.59,93.82L168.86,93.10L169.14,92.40L169.41,91.72L169.68,91.06L169.96,90.42L170.23,89.79L170.50,89.18L170.78,88.59L171.05,88.02L171.32,87.46L171.60,86.92L171.87,86.39L172.15,85.88L172.42,85.39L172.69,84.91L172.97,84.45L173.24,84.00L173.51,83.57L173.79,83.15L174.06,82.75L174.33,82.36L174.61,81.98L174.88,81.62L175.16,81.27L175.43,80.94L175.70,80.62L175.98,80.31L176.25,80.02L176.52,79.74L176.80,79.47L177.07,79.22L177.34,78.97L177.62,78.74L177.89,78.52L178.17,78.31L178.44,78.12L178.71,77.94L178.99,77.76L179.26,77.60L179.53,77.45L179.81,77.31L180.08,77.18L180.35,77.06L180.63,76.96L180.90,76.86L181.17,76.77L181.45,76.69L181.72,76.63L182.00,76.57L182.27,76.52L182.54,76.48L182.82,76.45L183.09,76.43L183.36,76.42L183.64,76.41L183.91,76.42L184.18,76.44L184.46,76.46L184.73,76.49L185.01,76.53L185.28,76.58L185.55,76.63L185.83,76.70L186.10,76.77L186.37,76.85L186.65,76.93L186.92,77.03L187.19,77.13L187.47,77.24L187.74,77.35L188.02,77.48L188.29,77.61L188.56,77.74L188.84,77.89L189.11,78.03L189.38,78.19L189.66,78.35L189.93,78.52L190.20,78.70L190.48,78.88L190.75,79.06L191.03,79.26L191.30,79.45L191.57,79.66L191.85,79.87L192.12,80.08L192.39,80.30L192.67,80.53L192.94,80.76L193.21,81.00L193.49,81.24L193.76,81.48L194.03,81.73L194.31,81.99L194.58,82.25L194.86,82.52L195.13,82.79L195.40,83.06L195.68,83.34L195.95,83.62L196.22,83.91L196.50,84.20L196.77,84.50L197.04,84.80L197.32,85.10L197.59,85.41L197.87,85.72L198.14,86.03L198.41,86.35L198.69,86.68L198.96,87.00L199.23,87.33L199.51,87.67L199.78,88.00L200.05,88.34L200.33,88.68L200.60,89.03L200.88,89.38L201.15,89.73L201.42,90.09L201.70,90.45L201.97,90.81L202.24,91.17L202.52,91.54L202.79,91.91L203.06,92.28L203.34,92.65L203.61,93.03L203.88,93.41L204.16,93.79L204.43,94.18L204.71,94.56L204.98,94.95L205.25,95.35L205.53,95.74L205.80,96.14L206.07,96.53L206.35,96.93L206.62,97.34L206.89,97.74L207.17,98.15L207.44,98.55L207.72,98.96L207.99,99.37L208.26,99.79L208.54,100.20L208.81,100.62L209.08,101.04L209.36,101.46L209.63,101.88L209.90,102.30L210.18,102.72L210.45,103.15L210.73,103.58L211.00,104.01L211.27,104.43L211.55,104.87L211.82,105.30L212.09,105.73L212.37,106.17L212.64,106.60L212.91,107.04L213.19,107.48L213.46,107.91L213.74,108.35L214.01,108.79L214.28,109.24L214.56,109.68L214.83,110.12L215.10,110.57L215.38,111.01L215.65,111.46L215.92,111.90L216.20,112.35L216.47,112.80L216.74,113.25L217.02,113.70L217.29,114.15L217.57,114.60L217.84,115.05L218.11,115.50L218.39,115.95L218.66,116.40L218.93,116.85L219.21,117.31L219.48,117.76L219.75,118.22L220.03,118.67L220.30,119.12L220.58,119.58L220.85,120.03L221.12,120.49L221.40,120.94L221.67,121.40L221.94,121.86L222.22,122.31L222.49,122.77L222.76,123.23L223.04,123.68L223.31,124.14L223.59,124.59L223.86,125.05L224.13,125.51L224.41,125.96L224.68,126.42L224.95,126.88L225.23,127.33L225.50,127.79L225.77,128.25L226.05,128.70L226.32,129.16L226.59,129.61L226.87,130.07L227.14,130.53L227.42,130.98L227.69,131.44L227.96,131.89L228.24,132.35L228.51,132.80L228.78,133.25L229.06,133.71L229.33,134.16L229.60,134.61L229.88,135.07L230.15,135.52L230.43,135.97L230.70,136.42L230.97,136.87L231.25,137.32L231.52,137.78L231.79,138.23L232.07,138.67L232.34,139.12L232.61,139.57L232.89,140.02L233.16,140.47L233.44,140.92L233.71,141.36L233.98,141.81L234.26,142.25L234.53,142.70L234.80,143.14L235.08,143.59L235.35,144.03L235.62,144.47L235.90,144.92L236.17,145.36L236.45,145.80L236.72,146.24L236.99,146.68L238.36,148.87L239.74,151.05L241.11,153.20L242.48,155.34L243.85,157.46L245.22,159.56L246.59,161.63L247.97,163.69L249.34,165.72L250.71,167.72L252.08,169.71L253.45,171.67L254.82,173.60L256.19,175.51L257.57,177.40L258.94,179.26L260.31,181.09L261.68,182.90L263.05,184.68L264.42,186.44L265.80,188.17L267.17,189.88L268.54,191.56L269.91,193.22L271.28,194.85L272.65,196.45L274.03,198.03L275.40,199.59L276.77,201.12L278.14,202.62L279.51,204.10L280.88,205.56L282.26,206.99L283.63,208.40L285.00,209.78L286.37,211.14L287.74,212.48L289.11,213.79L290.48,215.09L291.86,216.35L293.23,217.60L294.60,218.82L295.97,220.03L297.34,221.21L298.71,222.37L300.09,223.50L301.46,224.62L302.83,225.72L304.20,226.80L305.57,227.85L306.94,228.89L308.32,229.91L309.69,230.91L311.06,231.89L312.43,232.85L313.80,233.80L315.17,234.72L316.55,235.63L317.92,236.52L319.29,237.40L320.66,238.25L322.03,239.10L323.40,239.92L324.78,240.73L326.15,241.52L327.52,242.30L328.89,243.06L330.26,243.81L331.63,244.54L333.00,245.26L334.38,245.96L335.75,246.65L337.12,247.33L338.49,247.99L339.86,248.64L341.23,249.28L342.61,249.90L343.98,250.52L345.35,251.12L346.72,251.70L348.09,252.28L349.46,252.84L350.84,253.39L352.21,253.94L353.58,254.47L354.95,254.99L356.32,255.49L357.69,255.99L359.07,256.48L360.44,256.96L361.81,257.43L363.18,257.89L364.55,258.34L365.92,258.78L367.29,259.21L368.67,259.63L370.04,260.04L371.41,260.45L372.78,260.84L374.15,261.23L375.52,261.61L376.90,261.98L378.27,262.35L379.64,262.70L381.01,263.05L382.38,263.39L383.75,263.73L385.13,264.05L386.50,264.38L387.87,264.69L389.24,265.00L390.61,265.30L391.98,265.59L393.36,265.88L394.73,266.16L396.10,266.44L397.47,266.70L398.84,266.97L400.21,267.23L401.59,267.48L402.96,267.73L404.33,267.97L405.70,268.21L407.07,268.44L408.44,268.66L409.81,268.89L411.19,269.10L412.56,269.31L413.93,269.52L415.30,269.72L416.67,269.92L418.04,270.12L419.42,270.31L420.79,270.49L422.16,270.67L423.53,270.85L424.90,271.03L426.27,271.20L427.65,271.36L429.02,271.52L430.39,271.68L431.76,271.84L433.13,271.99L434.50,272.14L435.88,272.28L437.25,272.42L438.62,272.56L439.99,272.70L441.36,272.83L442.73,272.96L444.10,273.08L445.48,273.21L446.85,273.33L448.22,273.45L449.59,273.56L450.96,273.67L452.33,273.78L453.71,273.89L455.08,274.00L456.45,274.10L457.82,274.20L459.19,274.30L460.56,274.39L461.94,274.48L463.31,274.58L464.68,274.66L466.05,274.75L467.42,274.84L468.79,274.92L470.17,275.00L471.54,275.08L472.91,275.15L474.28,275.23L475.65,275.30L477.02,275.37L478.40,275.44L479.77,275.51L481.14,275.58L482.51,275.64L483.88,275.70L485.25,275.77L486.62,275.83L488.00,275.88L489.37,275.94L490.74,276.00L492.11,276.05L493.48,276.10L494.85,276.15L496.23,276.20L497.60,276.25L498.97,276.30L500.34,276.35L501.71,276.39L503.08,276.44L504.46,276.48L505.83,276.52L507.20,276.56L508.57,276.60L509.94,276.64L511.31,276.67L512.69,276.71L514.06,276.75L515.43,276.78L516.80,276.81L518.17,276.85L519.54,276.88L520.92,276.91L522.29,276.94L523.66,276.97L525.03,276.99L526.40,277.02L527.77,277.05L529.14,277.07L530.52,277.10L531.89,277.12L533.26,277.15L534.63,277.17L536.00,277.19L537.37,277.21L538.75,277.23L540.12,277.25L541.49,277.27L542.86,277.29L544.23,277.31L545.60,277.32L546.98,277.34L548.35,277.36L549.72,277.37L551.09,277.39L552.46,277.40L553.83,277.42L555.21,277.43L556.58,277.44L557.95,277.45L559.32,277.47L560.69,277.48L562.06,277.49L563.43,277.50L564.81,277.51L566.18,277.52L567.55,277.53L568.92,277.54L570.29,277.55L571.66,277.55L573.04,277.56L574.41,277.57L575.78,277.58L577.15,277.58L578.52,277.59L579.89,277.59L581.27,277.60L582.64,277.61L584.01,277.61L585.38,277.61L586.75,277.62L588.12,277.62L589.50,277.63L590.87,277.63L592.24,277.63L593.61,277.64L594.98,277.64L596.35,277.64L597.73,277.64L599.10,277.64L600.47,277.65L601.84,277.65L603.21,277.65L604.58,277.65L605.95,277.65L607.33,277.65L608.70,277.65L610.07,277.65L611.44,277.65L612.81,277.65L614.18,277.65L615.56,277.65L616.93,277.65L618.30,277.65L619.67,277.64L621.04,277.64L622.41,277.64L623.79,277.64L625.16,277.64L626.53,277.63L627.90,277.63L629.27,277.63L630.64,277.63L632.02,277.62L633.39,277.62L634.76,277.62L636.13,277.61L637.50,277.61L638.87,277.61L640.24,277.60L641.62,277.60L642.99,277.60L644.36,277.59L645.73,277.59L647.10,277.58L648.47,277.58L649.85,277.58L651.22,277.57L652.59,277.57L653.96,277.56L655.33,277.56L656.70,277.55L658.08,277.55L659.45,277.54L660.82,277.54L662.19,277.53L663.56,277.53L664.93,277.52L666.31,277.52L667.68,277.51L669.05,277.50L670.42,277.50L671.79,277.49L673.16,277.49L674.54,277.48L675.91,277.48L677.28,277.47L678.65,277.46L680.02,277.46L681.39,277.45L682.76,277.44L684.14,277.44L685.51,277.43L686.88,277.42L688.25,277.42L689.62,277.41L690.99,277.40L692.37,277.40L693.74,277.39L695.11,277.38L696.48,277.38L697.85,277.37L699.22,277.36L700.60,277.36L701.97,277.35L703.34,277.34L704.71,277.34L706.08,277.33L707.45,277.32L708.83,277.31L710.20,277.31L711.57,277.30L712.94,277.29L714.31,277.29L715.68,277.28L717.05,277.27L718.43,277.26L719.80,277.26L721.17,277.25L722.54,277.24L723.91,277.23L725.28,277.22L726.66,277.22L728.03,277.21L729.40,277.20L730.77,277.19L732.14,277.19L733.51,277.18L734.89,277.17L736.26,277.16L737.63,277.16L739.00,277.15L740.37,277.14L741.74,277.13L743.12,277.12L744.49,277.12L745.86,277.11L747.23,277.10L748.60,277.09L749.97,277.08L751.35,277.08L752.72,277.07L754.09,277.06L755.46,277.05L756.83,277.04L758.20,277.03L759.57,277.03L760.95,277.02L762.32,277.01L763.69,277.00L765.06,276.99L766.43,276.99L767.80,276.98L769.18,276.97L770.55,276.96L771.92,276.95L773.29,276.94L774.66,276.94L776.03,276.93L777.41,276.92L778.78,276.91L780.15,276.90L781.52,276.89L782.89,276.89L784.26,276.88" stroke="#000000"/>
</g></g>
<rect x="505" y="39.75" width="111.85" height="191.15" fill="none" stroke="#000" stroke-width="1.95"/>
<rect x="67.15" y="38.45" width="552.85" height="435.15" stroke="#626262" stroke-width="1" fill="none"/>
<g stroke="#626262" stroke-width="1" fill="none">
<path d="M78.21,473.6v-5.0M78.21,38.45v5.0"/><path d="M95.91,473.6v-5.0M95.91,38.45v5.0"/><path d="M113.60,473.6v-8.6M113.60,38.45v8.6"/><path d="M131.30,473.6v-5.0M131.30,38.45v5.0"/><path d="M148.99,473.6v-5.0M148.99,38.45v5.0"/><path d="M166.69,473.6v-5.0M166.69,38.45v5.0"/><path d="M184.38,473.6v-8.6M184.38,38.45v8.6"/><path d="M202.08,473.6v-5.0M202.08,38.45v5.0"/><path d="M219.77,473.6v-5.0M219.77,38.45v5.0"/><path d="M237.46,473.6v-5.0M237.46,38.45v5.0"/><path d="M255.16,473.6v-8.6M255.16,38.45v8.6"/><path d="M272.86,473.6v-5.0M272.86,38.45v5.0"/><path d="M290.55,473.6v-5.0M290.55,38.45v5.0"/><path d="M308.25,473.6v-5.0M308.25,38.45v5.0"/><path d="M325.94,473.6v-8.6M325.94,38.45v8.6"/><path d="M343.63,473.6v-5.0M343.63,38.45v5.0"/><path d="M361.33,473.6v-5.0M361.33,38.45v5.0"/><path d="M379.02,473.6v-5.0M379.02,38.45v5.0"/><path d="M396.72,473.6v-8.6M396.72,38.45v8.6"/><path d="M414.41,473.6v-5.0M414.41,38.45v5.0"/><path d="M432.11,473.6v-5.0M432.11,38.45v5.0"/><path d="M449.80,473.6v-5.0M449.80,38.45v5.0"/><path d="M467.50,473.6v-8.6M467.50,38.45v8.6"/><path d="M485.20,473.6v-5.0M485.20,38.45v5.0"/><path d="M502.89,473.6v-5.0M502.89,38.45v5.0"/><path d="M520.58,473.6v-5.0M520.58,38.45v5.0"/><path d="M538.28,473.6v-8.6M538.28,38.45v8.6"/><path d="M555.98,473.6v-5.0M555.98,38.45v5.0"/><path d="M573.67,473.6v-5.0M573.67,38.45v5.0"/><path d="M591.37,473.6v-5.0M591.37,38.45v5.0"/><path d="M609.06,473.6v-8.6M609.06,38.45v8.6"/><path d="M67.15,473.61h3.9M620.0,473.61h-3.9"/><path d="M67.15,455.49h3.9M620.0,455.49h-3.9"/><path d="M67.15,437.36h3.9M620.0,437.36h-3.9"/><path d="M67.15,419.24h6.7M620.0,419.24h-6.7"/><path d="M67.15,401.11h3.9M620.0,401.11h-3.9"/><path d="M67.15,382.99h3.9M620.0,382.99h-3.9"/><path d="M67.15,364.87h3.9M620.0,364.87h-3.9"/><path d="M67.15,346.74h6.7M620.0,346.74h-6.7"/><path d="M67.15,328.62h3.9M620.0,328.62h-3.9"/><path d="M67.15,310.50h3.9M620.0,310.50h-3.9"/><path d="M67.15,292.37h3.9M620.0,292.37h-3.9"/><path d="M67.15,274.25h6.7M620.0,274.25h-6.7"/><path d="M67.15,256.13h3.9M620.0,256.13h-3.9"/><path d="M67.15,238.00h3.9M620.0,238.00h-3.9"/><path d="M67.15,219.88h3.9M620.0,219.88h-3.9"/><path d="M67.15,201.76h6.7M620.0,201.76h-6.7"/><path d="M67.15,183.63h3.9M620.0,183.63h-3.9"/><path d="M67.15,165.51h3.9M620.0,165.51h-3.9"/><path d="M67.15,147.39h3.9M620.0,147.39h-3.9"/><path d="M67.15,129.26h6.7M620.0,129.26h-6.7"/><path d="M67.15,111.14h3.9M620.0,111.14h-3.9"/><path d="M67.15,93.01h3.9M620.0,93.01h-3.9"/><path d="M67.15,74.89h3.9M620.0,74.89h-3.9"/><path d="M67.15,56.77h6.7M620.0,56.77h-6.7"/><path d="M67.15,38.64h3.9M620.0,38.64h-3.9"/>
</g>
<g>
<text transform="translate(113.6,502.3) scale(0.76,1) rotate(0.3)" font-size="22.8" text-anchor="middle" fill="#5a5a5a" stroke="#5a5a5a" stroke-width="0.18" >0.6</text>
<text transform="translate(184.38,502.3) scale(0.76,1) rotate(0.3)" font-size="22.8" text-anchor="middle" fill="#5a5a5a" stroke="#5a5a5a" stroke-width="0.18" >0.8</text>
<text transform="translate(255.16,502.3) scale(0.76,1) rotate(0.3)" font-size="22.8" text-anchor="middle" fill="#5a5a5a" stroke="#5a5a5a" stroke-width="0.18" >1.0</text>
<text transform="translate(325.94,502.3) scale(0.76,1) rotate(0.3)" font-size="22.8" text-anchor="middle" fill="#5a5a5a" stroke="#5a5a5a" stroke-width="0.18" >1.2</text>
<text transform="translate(396.72,502.3) scale(0.76,1) rotate(0.3)" font-size="22.8" text-anchor="middle" fill="#5a5a5a" stroke="#5a5a5a" stroke-width="0.18" >1.4</text>
<text transform="translate(467.5,502.3) scale(0.76,1) rotate(0.3)" font-size="22.8" text-anchor="middle" fill="#5a5a5a" stroke="#5a5a5a" stroke-width="0.18" >1.6</text>
<text transform="translate(538.28,502.3) scale(0.76,1) rotate(0.3)" font-size="22.8" text-anchor="middle" fill="#5a5a5a" stroke="#5a5a5a" stroke-width="0.18" >1.8</text>
<text transform="translate(609.06,502.3) scale(0.76,1) rotate(0.3)" font-size="22.8" text-anchor="middle" fill="#5a5a5a" stroke="#5a5a5a" stroke-width="0.18" >2.0</text>
<text transform="translate(61.95,64.62) scale(0.76,1) rotate(0.3)" font-size="22.8" text-anchor="end" fill="#5a5a5a" stroke="#5a5a5a" stroke-width="0.18" >6</text>
<text transform="translate(61.95,137.11) scale(0.76,1) rotate(0.3)" font-size="22.8" text-anchor="end" fill="#5a5a5a" stroke="#5a5a5a" stroke-width="0.18" >4</text>
<text transform="translate(61.95,209.61) scale(0.76,1) rotate(0.3)" font-size="22.8" text-anchor="end" fill="#5a5a5a" stroke="#5a5a5a" stroke-width="0.18" >2</text>
<text transform="translate(61.95,282.1) scale(0.76,1) rotate(0.3)" font-size="22.8" text-anchor="end" fill="#5a5a5a" stroke="#5a5a5a" stroke-width="0.18" >0</text>
<text transform="translate(61.95,354.59) scale(0.76,1) rotate(0.3)" font-size="22.8" text-anchor="end" fill="#5a5a5a" stroke="#5a5a5a" stroke-width="0.18" >2</text>
<rect x="43.2" y="348.22" width="8.2" height="1.25" fill="#5a5a5a"/>
<text transform="translate(61.95,427.09) scale(0.76,1) rotate(0.3)" font-size="22.8" text-anchor="end" fill="#5a5a5a" stroke="#5a5a5a" stroke-width="0.18" >4</text>
<rect x="43.2" y="420.72" width="8.2" height="1.25" fill="#5a5a5a"/>
</g>
<rect x="521.85" y="64.25" width="15.55" height="20.4" fill="#0000ff" stroke="#0000aa" stroke-width="1.7"/>
<text transform="translate(544.9,83.30) scale(1.0,1) rotate(0.3)" font-size="26.5" font-style="italic" fill="#000" stroke="#000" stroke-width="0.2">α</text>
<text transform="translate(559.3,83.30) scale(0.764,1) rotate(0.3)" font-size="26.5" fill="#000" stroke="#000" stroke-width="0.2">=0.4</text>
<rect x="521.85" y="103.95" width="15.55" height="20.4" fill="#ff0000" stroke="#aa0000" stroke-width="1.7"/>
<text transform="translate(544.9,123.00) scale(1.0,1) rotate(0.3)" font-size="26.5" font-style="italic" fill="#000" stroke="#000" stroke-width="0.2">α</text>
<text transform="translate(559.3,123.00) scale(0.764,1) rotate(0.3)" font-size="26.5" fill="#000" stroke="#000" stroke-width="0.2">=0.5</text>
<rect x="521.85" y="143.65" width="15.55" height="20.4" fill="#00ffff" stroke="#00aaaa" stroke-width="1.7"/>
<text transform="translate(544.9,162.70) scale(1.0,1) rotate(0.3)" font-size="26.5" font-style="italic" fill="#000" stroke="#000" stroke-width="0.2">α</text>
<text transform="translate(559.3,162.70) scale(0.764,1) rotate(0.3)" font-size="26.5" fill="#000" stroke="#000" stroke-width="0.2">=0.6</text>
<rect x="521.85" y="183.35" width="15.55" height="20.4" fill="#000000" stroke="#000000" stroke-width="1.7"/>
<text transform="translate(544.9,202.40) scale(1.0,1) rotate(0.3)" font-size="26.5" font-style="italic" fill="#000" stroke="#000" stroke-width="0.2">α</text>
<text transform="translate(559.3,202.40) scale(0.764,1) rotate(0.3)" font-size="26.5" fill="#000" stroke="#000" stroke-width="0.2">=0.7</text>

<text transform="translate(343.7,20.7) scale(0.808,1)" font-size="21.2" font-weight="bold" text-anchor="middle" fill="#000">NFW profile</text>
<text transform="translate(343.9,545.7) scale(0.801,1)" font-size="21.2" font-weight="bold" text-anchor="middle" fill="#000">r (kpc)</text>
<text transform="translate(1.2,262.4) scale(0.777,1)" font-size="22.8" font-weight="bold" font-style="italic" fill="#000" stroke="#000" stroke-width="0.55">Y</text>
<text transform="translate(12.0,268.5) scale(0.73,1)" font-size="20.8" font-weight="bold" fill="#000">TF</text>
</svg>
</body></html>
